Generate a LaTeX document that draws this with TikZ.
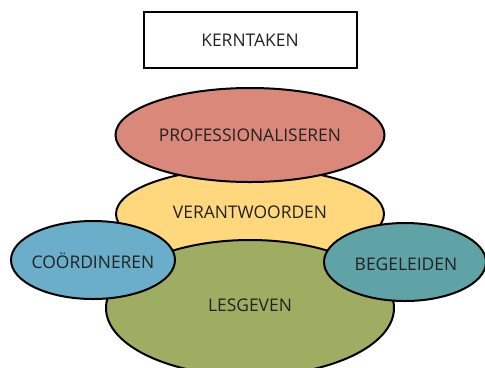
\documentclass[tikz,border=0pt]{standalone}
\usepackage{fontspec}
\setmainfont{Open Sans}
\usetikzlibrary{shapes.geometric}
\definecolor{cpink}{HTML}{D9887A}
\definecolor{cyellow}{HTML}{FFD87E}
\definecolor{cgreen}{HTML}{9FAD63}
\definecolor{cblue}{HTML}{6AAECA}
\definecolor{cteal}{HTML}{5FA3A6}
\definecolor{ctext}{HTML}{222222}
\tikzset{
  lbl/.style={text=ctext, font=\fontsize{17.5}{20}\selectfont, inner sep=0pt},
  blob/.style={ellipse, draw=black, line width=2bp, inner sep=0pt},
  titlebox/.style={rectangle, draw=black, line width=2bp, inner sep=0pt, lbl}
}
\begin{document}
\begin{tikzpicture}[x=1bp,y=-1bp]
\useasboundingbox (0,0) rectangle (485,367);
\clip (0,0) rectangle (485,367);
\node[titlebox, minimum width=213bp, minimum height=56bp] (kern) at (250,40) {KERNTAKEN};
\node[blob, fill=cyellow, minimum width=268bp, minimum height=92bp] (verant) at (250,214) {};
\node[blob, fill=cpink, minimum width=269bp, minimum height=94bp] (prof) at (250,135) {};
\node[blob, fill=cgreen, minimum width=288bp, minimum height=136bp] (les) at (250,308) {};
\node[blob, fill=cblue, minimum width=164bp, minimum height=78bp] (coord) at (93,260) {};
\node[blob, fill=cteal, minimum width=162bp, minimum height=78bp] (beg) at (405,262) {};
\node[lbl] (proflbl) at (prof.center) {PROFESSIONALISEREN};
\node[lbl] (verantlbl) at (250,212) {VERANTWOORDEN};
\node[lbl] (leslbl) at (250,305) {LESGEVEN};
\node[lbl] (coordlbl) at (93,261) {CO\"ORDINEREN};
\node[lbl] (beglbl) at (406,264) {BEGELEIDEN};
\end{tikzpicture}
\end{document}
